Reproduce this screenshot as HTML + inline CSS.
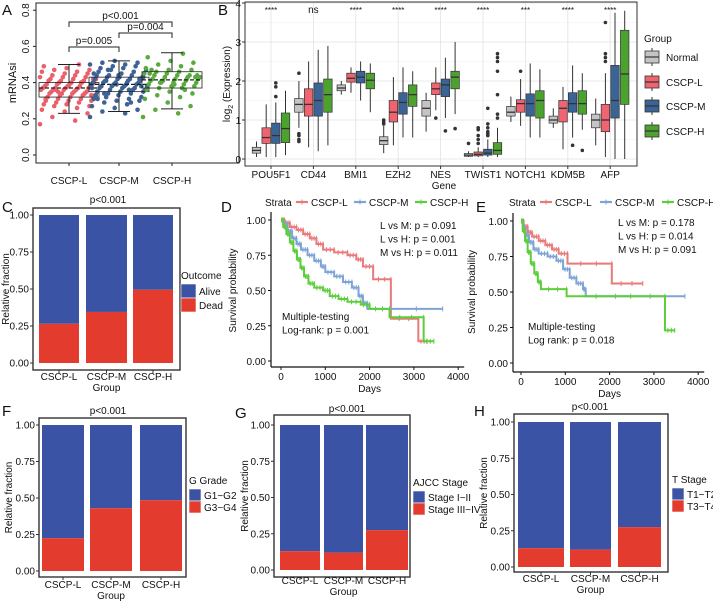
<!DOCTYPE html>
<html><head><meta charset="utf-8">
<style>
html,body{margin:0;padding:0;background:#fff;}
svg{display:block;font-family:"Liberation Sans",Arial,sans-serif;}
text{fill:#111;}
</style></head>
<body>
<svg id="fig" width="713" height="602" viewBox="0 0 713 602" xmlns="http://www.w3.org/2000/svg"></svg>
<script>
// ---------- DATA ----------
// Panel A (mRNAsi jitter values)
const aGroups = ["CSCP-L","CSCP-M","CSCP-H"];
const aValsL = [0.17,0.19,0.21,0.23,0.24,0.25,0.26,0.27,0.27,0.28,0.28,0.29,0.29,0.30,0.30,0.31,0.31,0.31,0.32,0.32,0.32,0.33,0.33,0.33,0.34,0.34,0.34,0.34,0.35,0.35,0.35,0.35,0.36,0.36,0.36,0.36,0.37,0.37,0.37,0.37,0.37,0.38,0.38,0.38,0.38,0.39,0.39,0.39,0.39,0.40,0.40,0.40,0.40,0.41,0.41,0.41,0.42,0.42,0.42,0.43,0.43,0.43,0.44,0.44,0.45,0.45,0.46,0.46,0.47,0.47,0.48,0.49,0.50,0.36,0.33,0.38,0.30,0.40,0.35,0.42];
const aValsM = [0.21,0.23,0.24,0.25,0.26,0.27,0.28,0.29,0.30,0.30,0.31,0.31,0.32,0.32,0.33,0.33,0.34,0.34,0.35,0.35,0.35,0.36,0.36,0.36,0.37,0.37,0.37,0.38,0.38,0.38,0.38,0.39,0.39,0.39,0.39,0.40,0.40,0.40,0.40,0.41,0.41,0.41,0.42,0.42,0.42,0.43,0.43,0.43,0.44,0.44,0.44,0.45,0.45,0.46,0.46,0.47,0.47,0.48,0.48,0.49,0.49,0.50,0.50,0.51,0.51,0.52,0.37,0.40,0.34,0.42,0.39,0.45,0.36,0.41,0.38,0.44,0.33,0.29,0.47,0.43,0.35,0.31];
const aValsH = [0.21,0.23,0.25,0.27,0.29,0.31,0.32,0.33,0.34,0.35,0.36,0.37,0.37,0.38,0.38,0.39,0.39,0.40,0.40,0.40,0.41,0.41,0.41,0.42,0.42,0.42,0.43,0.43,0.43,0.44,0.44,0.44,0.45,0.45,0.46,0.46,0.47,0.47,0.48,0.49,0.50,0.51,0.52,0.54,0.56,0.40,0.43,0.38,0.45,0.36,0.41,0.44,0.39,0.47,0.42];
const aBoxLo = [0.23,0.24,0.255];
const aBoxQ1 = [0.32,0.35,0.37];
const aBoxMed = [0.37,0.39,0.415];
const aBoxQ3 = [0.40,0.43,0.46];
const aBoxHi = [0.50,0.52,0.565];
const aTicks = [0.0,0.2,0.4,0.6,0.8];

// Panel B (gene expression boxplots)
const bGenes = ["POU5F1","CD44","BMI1","EZH2","NES","TWIST1","NOTCH1","KDM5B","AFP"];
const bGroupNames = ["Normal","CSCP-L","CSCP-M","CSCP-H"];
const bSig = ["****","ns","****","****","****","****","***","****","****"];
const bLo = [[0.05,0.05,0.05,0.1],[0.8,0.3,0.2,0.35],[1.65,1.7,1.5,1.2],[0.15,0.35,0.55,0.55],[0.7,1.25,1.05,1.15],[0.05,0.05,0.05,0.05],[0.95,0.85,0.55,0.55],[0.8,0.25,0.55,0.75],[0.35,0.05,0.0,0.0]];
const bQ1 = [[0.15,0.4,0.4,0.42],[1.2,1.1,1.1,1.2],[1.75,1.97,1.95,1.8],[0.37,0.95,1.15,1.35],[1.1,1.65,1.6,1.8],[0.07,0.08,0.1,0.12],[1.1,1.2,1.1,1.05],[0.92,0.95,1.2,1.15],[0.8,0.7,1.05,1.4]];
const bMed = [[0.22,0.55,0.6,0.78],[1.4,1.4,1.5,1.65],[1.82,2.07,2.1,2.02],[0.47,1.2,1.45,1.65],[1.3,1.8,1.9,2.1],[0.1,0.12,0.15,0.22],[1.2,1.42,1.42,1.5],[1.0,1.3,1.42,1.42],[1.0,1.0,1.5,2.18]];
const bQ3 = [[0.3,0.8,0.92,1.18],[1.55,1.8,1.95,2.05],[1.9,2.2,2.25,2.2],[0.57,1.5,1.7,1.9],[1.5,1.95,2.05,2.25],[0.14,0.18,0.25,0.42],[1.35,1.52,1.67,1.75],[1.1,1.5,1.7,1.75],[1.15,1.4,2.4,3.3]];
const bHi = [[0.45,1.4,1.45,1.75],[2.0,2.5,2.8,2.9],[2.0,2.35,2.5,2.45],[0.85,2.1,2.35,2.25],[1.7,2.35,2.6,3.0],[0.2,0.3,0.5,0.8],[1.6,2.05,2.45,2.3],[1.3,1.85,2.4,2.2],[1.55,2.2,3.75,3.8]];
const bOut = [[[],[],[1.6,1.85,1.95],[]],[[0.45,0.5,0.6,0.65,2.2],[],[],[]],[[],[],[],[]],[[0.9,0.95,1.0],[],[],[]],[[],[1.05],[0.72],[0.78]],[[0.4],[0.4,0.5,0.6,0.75,0.8],[0.6,0.65,0.7,0.8,0.9,1.3],[1.05,1.15,1.65,2.25,2.5,2.6,2.7]],[[],[2.25],[],[]],[[],[],[0.35],[0.22]],[[],[2.5,2.6,2.7,3.5],[],[]]];
const bTicks = [0,1,2,3,4];

// Stacked bar panels
const stackGroups = ["CSCP-L","CSCP-M","CSCP-H"];
const cDead = [0.265,0.345,0.495];
const fG34 = [0.225,0.43,0.485];
const gStage34 = [0.13,0.12,0.275];
const hT34 = [0.13,0.12,0.275];
const fracTicks = [0,0.25,0.5,0.75,1.0];

// Survival panels: [time, survival] steps
const dL = [[80,.98],[200,.95],[350,.93],[500,.9],[650,.87],[800,.83],[950,.79],[1200,.77],[1500,.75],[1700,.72],[1850,.67],[2080,.58],[2480,.3],[3100,.14]];
const dM = [[50,.97],[150,.92],[250,.87],[350,.83],[450,.79],[600,.75],[750,.71],[900,.67],[1000,.63],[1200,.6],[1400,.56],[1600,.52],[1750,.46],[1850,.41],[1950,.37]];
const dH = [[50,.95],[120,.9],[200,.84],[280,.78],[360,.72],[440,.66],[520,.6],[620,.55],[750,.52],[950,.5],[1100,.46],[1300,.44],[1500,.42],[1800,.4],[2000,.37],[2450,.31],[3220,.14]];
const dEnd = [3300,3650,3450];
const eL = [[60,.96],[150,.92],[250,.89],[400,.86],[550,.83],[700,.8],[850,.77],[1050,.7],[2050,.56]];
const eM = [[40,.95],[100,.9],[180,.85],[280,.8],[400,.77],[600,.75],[800,.72],[950,.66],[1100,.6],[1250,.56],[1400,.52],[1460,.47]];
const eH = [[40,.93],[90,.86],[150,.78],[220,.7],[300,.63],[380,.57],[450,.52],[1030,.47],[3250,.23]];
const eEnd = [2750,3700,3470];
const survTicks = [0,0.25,0.5,0.75,1.0];
const dayTicks = [0,1000,2000,3000,4000];

// ---------- HELPERS ----------
const NS = "http://www.w3.org/2000/svg";
const svg = document.getElementById("fig");
function mk(tag, attrs, parent){
  const e = document.createElementNS(NS, tag);
  for (const k in attrs) e.setAttribute(k, attrs[k]);
  (parent||svg).appendChild(e);
  return e;
}
function txt(x,y,s,size,anchor,parent,rot){
  const t = mk("text",{x:x,y:y,"font-size":size,"text-anchor":anchor||"start"},parent);
  if (rot) t.setAttribute("transform","rotate("+rot+" "+x+" "+y+")");
  t.textContent = s;
  return t;
}
function grp(name){
  const g = mk("g",{});
  
  
  return g;
}
const RED="#e33b2e", BLUE="#3a53a4";

// ---------- PANEL LETTERS ----------
[["A",2,15],["B",218,15],["C",2,212],["D",221,212],["E",476,212],["F",2,416],["G",235,418],["H",474,416]].forEach(p=>{
  const t = txt(p[1],p[2],p[0],15,"start");
  
  
});

// ---------- PANEL A ----------
(function(){
  const g = grp("panel-a-mrnasi-boxplot");
  const yA = v => 155 - 181*v;
  const xC = [69,119,172];
  mk("rect",{x:36,y:3,width:203,height:160,fill:"none",stroke:"#222","stroke-width":1},g);
  aTicks.forEach(t=>{
    mk("line",{x1:33,x2:36,y1:yA(t),y2:yA(t),stroke:"#222"},g);
    const tt = txt(29,yA(t),t.toFixed(1),10,"middle",g,-90);
    
    
  });
  const yt = txt(16,83,"mRNAsi",11,"middle",g,-90);
  
  
  const cols = ["#e9606c","#3e6296","#5aab3e"];
  [aValsL,aValsM,aValsH].forEach((vals,gi)=>{
    vals.forEach((v,i)=>{
      const off = (((i*37)%61)/61 - 0.5)*58;
      const c = mk("circle",{cx:xC[gi]+off,cy:yA(v),r:2.3,fill:cols[gi]},g);
      
      
    });
    const w = 60;
    const bx = mk("rect",{x:xC[gi]-w/2,y:yA(aBoxQ3[gi]),width:w,height:yA(aBoxQ1[gi])-yA(aBoxQ3[gi]),fill:"none",stroke:"#222","stroke-width":0.8},g);
    
    
    mk("line",{x1:xC[gi]-w/2,x2:xC[gi]+w/2,y1:yA(aBoxMed[gi]),y2:yA(aBoxMed[gi]),stroke:"#222","stroke-width":1.2,"stroke-dasharray":"4,2"},g);
    mk("line",{x1:xC[gi],x2:xC[gi],y1:yA(aBoxHi[gi]),y2:yA(aBoxQ3[gi]),stroke:"#222"},g);
    mk("line",{x1:xC[gi],x2:xC[gi],y1:yA(aBoxQ1[gi]),y2:yA(aBoxLo[gi]),stroke:"#222"},g);
    mk("line",{x1:xC[gi]-11,x2:xC[gi]+11,y1:yA(aBoxHi[gi]),y2:yA(aBoxHi[gi]),stroke:"#222"},g);
    mk("line",{x1:xC[gi]-11,x2:xC[gi]+11,y1:yA(aBoxLo[gi]),y2:yA(aBoxLo[gi]),stroke:"#222"},g);
    mk("line",{x1:xC[gi],x2:xC[gi],y1:163,y2:166,stroke:"#222"},g);
    const xl = txt(xC[gi],184,aGroups[gi],10,"middle",g);
    
    
  });
  function bracket(x1,x2,y,label){
    mk("path",{d:`M${x1},${y+5}V${y}H${x2}V${y+5}`,fill:"none",stroke:"#222"},g);
    const t = txt((x1+x2)/2,y-3,label,10,"middle",g);
    
    
  }
  bracket(69,172,22,"p<0.001");
  bracket(119,172,33,"p=0.004");
  bracket(69,119,47,"p=0.005");
})();

// ---------- PANEL B ----------
(function(){
  const g = grp("panel-b-gene-boxplot");
  const yB = v => 159 - 39*v;
  const x0 = 245, x1 = 637;
  const xG = i => 271 + 42.4*i;
  const offs = [-14.5,-4.8,4.8,14.5];
  const cols = ["#c4c4c4","#ef6470","#3b6496","#4ba22f"];
  mk("rect",{x:x0,y:2,width:x1-x0,height:164,fill:"#fff"},g);
  [0.5,1.5,2.5,3.5].forEach(v=>mk("line",{x1:x0,x2:x1,y1:yB(v),y2:yB(v),stroke:"#f0f0f0","stroke-width":0.6},g));
  bTicks.forEach(v=>mk("line",{x1:x0,x2:x1,y1:yB(v),y2:yB(v),stroke:"#e2e2e2","stroke-width":0.8},g));
  bGenes.forEach((n,i)=>mk("line",{x1:xG(i),x2:xG(i),y1:2,y2:166,stroke:"#e2e2e2","stroke-width":0.8},g));
  bGenes.forEach((gene,i)=>{
    for (let k=0;k<4;k++){
      const cx = xG(i)+offs[k], w=8.5;
      mk("line",{x1:cx,x2:cx,y1:yB(bHi[i][k]),y2:yB(bLo[i][k]),stroke:"#333","stroke-width":1},g);
      const r = mk("rect",{x:cx-w/2,y:yB(bQ3[i][k]),width:w,height:Math.max(1,yB(bQ1[i][k])-yB(bQ3[i][k])),fill:cols[k],stroke:"#333","stroke-width":0.7},g);
      
      
      mk("line",{x1:cx-w/2,x2:cx+w/2,y1:yB(bMed[i][k]),y2:yB(bMed[i][k]),stroke:"#333","stroke-width":1.3},g);
      bOut[i][k].forEach(o=>{
        const c = mk("circle",{cx:cx,cy:yB(o),r:1.8,fill:"#333"},g);
        
        
      });
    }
    const s = txt(xG(i),13,bSig[i],bSig[i]==="ns"?10:8,"middle",g);
    
    
    mk("line",{x1:xG(i),x2:xG(i),y1:166,y2:169,stroke:"#333"},g);
    const l = txt(xG(i),178,gene,10,"middle",g);
    
    
  });
  mk("rect",{x:x0,y:2,width:x1-x0,height:164,fill:"none",stroke:"#333","stroke-width":1},g);
  bTicks.forEach(v=>{
    mk("line",{x1:x0-3,x2:x0,y1:yB(v),y2:yB(v),stroke:"#333"},g);
    const t = txt(x0-4,yB(v)+4,String(v),10,"end",g);
    
    
  });
  const yt = mk("text",{x:230,y:84,"font-size":10,"text-anchor":"middle",transform:"rotate(-90 230 84)"},g);
  yt.innerHTML = 'log<tspan font-size="7" dy="3">2</tspan><tspan dy="-3"> (Expression)</tspan>';
  
  
  const xt = txt(444,189,"Gene",10,"middle",g);
  
  
  const lt = txt(644,42,"Group",10,"start",g);
  
  
  const ly = [57,82,106,131];
  bGroupNames.forEach((n,k)=>{
    const y=ly[k];
    mk("line",{x1:652,x2:652,y1:y-9,y2:y+9,stroke:"#333"},g);
    const r = mk("rect",{x:645,y:y-6,width:14,height:12,fill:cols[k],stroke:"#333","stroke-width":0.8},g);
    
    
    mk("line",{x1:645,x2:659,y1:y,y2:y,stroke:"#333","stroke-width":1.2},g);
    const t = txt(666,y+4,n,10,"start",g);
    
    
  });
})();

// ---------- STACKED BAR PANELS ----------
function stacked(cfg){
  const g = grp(cfg.name);
  const y = v => cfg.y0 - (cfg.y0-cfg.y1)*v;
  mk("rect",{x:cfg.bx,y:cfg.by,width:cfg.bw,height:cfg.bh,fill:"none",stroke:"#333","stroke-width":1.4},g);
  cfg.vals.forEach((v,i)=>{
    const b = cfg.bars[i];
    const top = mk("rect",{x:b[0],y:y(1),width:b[1]-b[0],height:y(v)-y(1),fill:BLUE},g);
    
    
    const bot = mk("rect",{x:b[0],y:y(v),width:b[1]-b[0],height:y(0)-y(v),fill:RED},g);
    
    
    const cx=(b[0]+b[1])/2;
    mk("line",{x1:cx,x2:cx,y1:cfg.by+cfg.bh,y2:cfg.by+cfg.bh+3,stroke:"#333"},g);
    const l = txt(cx,cfg.xl,stackGroups[i],10,"middle",g);
    
    
  });
  fracTicks.forEach(t=>{
    mk("line",{x1:cfg.bx-3,x2:cfg.bx,y1:y(t),y2:y(t),stroke:"#333"},g);
    const l = txt(cfg.bx-4,y(t)+3.5,t.toFixed(2),10,"end",g);
    
    
  });
  const at = txt(cfg.ax,(cfg.by+cfg.by+cfg.bh)/2,"Relative fraction",10,"middle",g,-90);
  
  
  const xt = txt((cfg.bars[1][0]+cfg.bars[1][1])/2,cfg.xl+11,"Group",10,"middle",g);
  
  
  const tt = txt(cfg.tx,cfg.ty,"p<0.001",10,"middle",g);
  
  
  const lt = txt(cfg.lx,cfg.ly,cfg.legTitle,10,"start",g);
  
  
  [[BLUE,cfg.legs[0]],[RED,cfg.legs[1]]].forEach((e,k)=>{
    const ky = cfg.ly+5+k*cfg.kh;
    const r = mk("rect",{x:cfg.lx,y:ky,width:cfg.kw,height:cfg.kh,fill:e[0],stroke:"#fff","stroke-width":0.6},g);
    
    
    const t = txt(cfg.lx+cfg.kw+3,ky+cfg.kh/2+4,e[1],10,"start",g);
    
    
  });
}
stacked({name:"panel-c-outcome",vals:cDead,bx:33,by:208,bw:147,bh:162,y1:215,y0:363,bars:[[39,79],[86,127],[133,173]],xl:380,ax:9,tx:108,ty:203,lx:181,ly:279,kw:15,kh:14,legTitle:"Outcome",legs:["Alive","Dead"]});
stacked({name:"panel-f-grade",vals:fG34,bx:39,by:418,bw:147,bh:159,y1:425,y0:571,bars:[[42,84],[90,132],[140,182]],xl:588,ax:12,tx:108,ty:414,lx:189,ly:484,kw:12,kh:12,legTitle:"G Grade",legs:["G1\u2212G2","G3\u2212G4"]});
stacked({name:"panel-g-ajcc-stage",vals:gStage34,bx:274,by:415,bw:136,bh:162,y1:425,y0:570,bars:[[280,320],[324,363],[366,408]],xl:584,ax:248,tx:347,ty:412,lx:413,ly:486,kw:12,kh:12,legTitle:"AJCC Stage",legs:["Stage I\u2212II","Stage III\u2212IV"]});
stacked({name:"panel-h-t-stage",vals:hT34,bx:514,by:414,bw:154,bh:158,y1:422,y0:567,bars:[[518,564],[570,611],[618,661]],xl:582,ax:487,tx:590,ty:410,lx:672,ly:483,kw:12,kh:12,legTitle:"T Stage",legs:["T1\u2212T2","T3\u2212T4"]});

// ---------- SURVIVAL PANELS ----------
function surv(cfg){
  const g = grp(cfg.name);
  const X = d => cfg.x0 + cfg.px*d/1000;
  const Y = s => cfg.y0 - (cfg.y0-cfg.y1)*s;
  const cols = ["#e87a7a","#7fa3d6","#5cce3c"];
  cfg.curves.forEach((c,k)=>{
    let d = `M${X(0)},${Y(1)}`;
    let last = 1;
    c.forEach(p=>{ d += `H${X(p[0])}V${Y(p[1])}`; last=p[1]; });
    d += `H${X(cfg.ends[k])}`;
    const path = mk("path",{d:d,fill:"none",stroke:cols[k],"stroke-width":2},g);
    
    
    // censor ticks at step midpoints
    let prevT = 0, prevS = 1;
    c.concat([[cfg.ends[k],null]]).forEach(p=>{
      for (let f=0.3; f<1; f+=0.35){
        const tx = X(prevT + (p[0]-prevT)*f);
        mk("line",{x1:tx,x2:tx,y1:Y(prevS)-2.5,y2:Y(prevS)+2.5,stroke:cols[k],"stroke-width":1},g);
      }
      prevT = p[0]; if (p[1]!==null) prevS = p[1];
    });
  });
  mk("line",{x1:cfg.ax,x2:cfg.ax,y1:cfg.y1-8,y2:cfg.by,stroke:"#111","stroke-width":1.2},g);
  mk("line",{x1:cfg.ax,x2:X(4000)+6,y1:cfg.by,y2:cfg.by,stroke:"#111","stroke-width":1.2},g);
  survTicks.forEach(t=>{
    mk("line",{x1:cfg.ax-3,x2:cfg.ax,y1:Y(t),y2:Y(t),stroke:"#111"},g);
    const l = txt(cfg.ax-5,Y(t)+4,t.toFixed(2),10,"end",g);
    
    
  });
  dayTicks.forEach(t=>{
    mk("line",{x1:X(t),x2:X(t),y1:cfg.by,y2:cfg.by+3,stroke:"#111"},g);
    const l = txt(X(t),cfg.by+13,String(t),10,"middle",g);
    
    
  });
  const yt = txt(cfg.ytx,(cfg.y1+cfg.y0)/2,"Survival probability",10,"middle",g,-90);
  
  
  const xt = txt(X(2000),cfg.by+25,"Days",10,"middle",g);
  
  
  cfg.pTexts.forEach((s,i)=>{
    const t = txt(cfg.ptx,cfg.pty+i*13.5,s,10,"start",g);
    
    
  });
  const m1 = txt(cfg.mtx,cfg.mty,"Multiple-testing",10,"start",g);
  
  
  const m2 = txt(cfg.mtx,cfg.mty+13.5,cfg.logrank,10,"start",g);
  
  
  const st = txt(cfg.leg[0],206,"Strata",10,"start",g);
  
  
  ["CSCP-L","CSCP-M","CSCP-H"].forEach((n,k)=>{
    const kx = cfg.leg[1+k];
    const ln = mk("line",{x1:kx,x2:kx+12,y1:202,y2:202,stroke:cols[k],"stroke-width":2.2},g);
    
    
    mk("line",{x1:kx+6,x2:kx+6,y1:199.5,y2:204.5,stroke:cols[k],"stroke-width":1},g);
    const t = txt(kx+15,206,n,10,"start",g);
    
    
  });
}
surv({name:"panel-d-survival",curves:[dL,dM,dH],ends:dEnd,x0:281,px:44.3,y0:361,y1:220,ax:271,by:367,ytx:236,
  pTexts:["L vs M: p = 0.091","L vs H: p = 0.001","M vs H: p = 0.011"],ptx:380,pty:229,mtx:282,mty:320,logrank:"Log-rank: p = 0.001",
  leg:[265,296,354,415]});
surv({name:"panel-e-survival",curves:[eL,eM,eH],ends:eEnd,x0:521,px:44.3,y0:363,y1:221,ax:513,by:372,ytx:475,
  pTexts:["L vs M: p = 0.178","L vs H: p = 0.014","M vs H: p = 0.091"],ptx:618,pty:226,mtx:528,mty:330,logrank:"Log rank: p = 0.018",
  leg:[509,540,600,662]});
</script>
</body></html>
